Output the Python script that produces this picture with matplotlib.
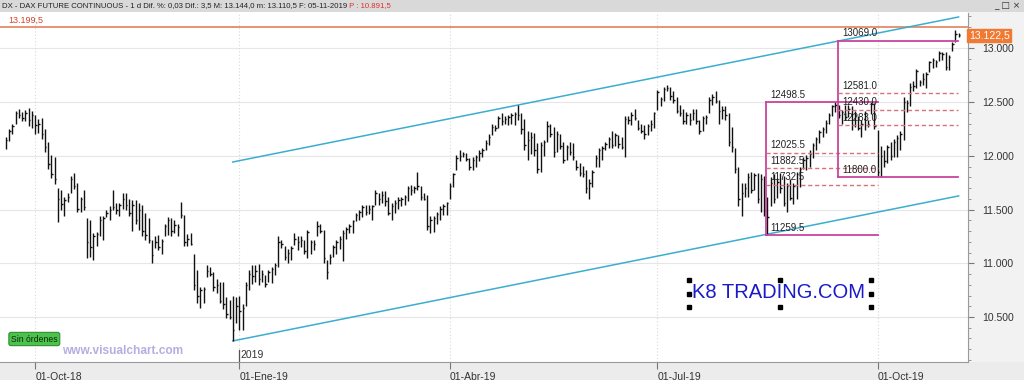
import matplotlib
matplotlib.use("Agg")
import matplotlib.pyplot as plt
from matplotlib.patches import Rectangle
from matplotlib.lines import Line2D
from matplotlib.text import Annotation
import matplotlib.transforms as mtransforms
import numpy as np

# daily bars (DAX future)
bar_high = [
    12180, 12250, 12300, 12420, 12440, 12410, 12430, 12450, 12420, 12380,
    12340, 12350, 12250, 12130, 12010, 11990, 11700, 11680, 11620, 11650,
    11810, 11840, 11750, 11620, 11680, 11420, 11400, 11280, 11290, 11440,
    11440, 11500, 11530, 11680, 11560, 11560, 11650, 11650, 11600, 11590,
    11590, 11560, 11540, 11470, 11420, 11220, 11250, 11260, 11230, 11370,
    11435, 11420, 11400, 11370, 11575, 11450, 11270, 11280, 11090, 10940,
    10780, 10780, 10980, 10970, 10920, 10850, 10830, 10830, 10690, 10660,
    10700, 10690, 10700, 10620, 10830, 10940, 10980, 10980, 10990, 10940,
    10890, 10940, 10970, 11000, 11250, 11220, 11160, 11130, 11160, 11280,
    11250, 11250, 11220, 11310, 11220, 11220, 11390, 11370, 11310, 11030,
    11090, 11170, 11220, 11250, 11310, 11340, 11370, 11400, 11470, 11500,
    11540, 11540, 11540, 11540, 11680, 11650, 11670, 11670, 11620, 11560,
    11590, 11620, 11620, 11640, 11720, 11730, 11720, 11850, 11720, 11650,
    11640, 11440, 11440, 11480, 11530, 11550, 11570, 11750, 11840, 12010,
    12050, 12040, 12030, 11980, 11990, 12010, 12050, 12070, 12150, 12200,
    12300, 12290, 12370, 12400, 12370, 12380, 12400, 12410, 12475, 12400,
    12340, 12230, 12220, 12210, 12120, 12130, 12150, 12320, 12300, 12270,
    12230, 12200, 12130, 12100, 12130, 12120, 11960, 11930, 11910, 11870,
    11780, 11870, 12010, 12070, 12090, 12130, 12180, 12230, 12210, 12190,
    12180, 12370, 12370, 12410, 12440, 12330, 12300, 12290, 12300, 12330,
    12410, 12610, 12550, 12640, 12660, 12640, 12600, 12550, 12470, 12440,
    12410, 12400, 12440, 12440, 12330, 12370, 12380, 12550, 12580, 12600,
    12520, 12460, 12460, 12400, 12270, 12070, 11900, 11750, 11745, 11840,
    11850, 11840, 11840, 11830, 11810, 11620, 11800, 11830, 11790, 11840,
    11810, 11750, 11780, 11750, 11850, 11900, 11990, 12010, 12050, 12120,
    12180, 12240, 12270, 12330, 12400, 12470, 12500, 12470, 12430, 12470,
    12470, 12460, 12420, 12370, 12330, 12420, 12330, 12500, 12490, 12240,
    12090, 12050, 12100, 12130, 12160, 12190, 12230, 12550, 12520, 12680,
    12700, 12810, 12710, 12770, 12780, 12880, 12910, 12890, 12980, 12970,
    12970, 12940, 13060, 13170, 13144,
]
bar_low = [
    12060, 12140, 12200, 12300, 12350, 12320, 12320, 12280, 12260, 12200,
    12210, 12160, 12040, 11880, 11790, 11740, 11380, 11500, 11440, 11570,
    11650, 11690, 11480, 11480, 11500, 11050, 11060, 11030, 11160, 11250,
    11220, 11430, 11400, 11500, 11460, 11440, 11510, 11500, 11440, 11300,
    11370, 11310, 11250, 11220, 11190, 11000, 11140, 11120, 11090, 11250,
    11265, 11250, 11280, 11250, 11420, 11160, 11160, 11170, 10750, 10630,
    10580, 10630, 10870, 10880, 10740, 10720, 10630, 10570, 10490, 10480,
    10280, 10440, 10380, 10380, 10600, 10750, 10810, 10830, 10800, 10830,
    10780, 10830, 10820, 10890, 10970, 11140, 11030, 11000, 11030, 11170,
    11120, 11150, 11090, 11050, 11090, 11120, 11250, 11280, 11000, 10850,
    10990, 11060, 11090, 11130, 11020, 11230, 11280, 11280, 11390, 11400,
    11430, 11450, 11460, 11400, 11540, 11540, 11560, 11530, 11450, 11400,
    11470, 11510, 11530, 11540, 11580, 11640, 11650, 11680, 11590, 11590,
    11310, 11280, 11290, 11370, 11400, 11450, 11450, 11600, 11710, 11870,
    11950, 11990, 11950, 11870, 11870, 11900, 11950, 11990, 12050, 12100,
    12190, 12230, 12260, 12290, 12300, 12290, 12300, 12290, 12335, 12200,
    12050, 11960, 12020, 12000, 11840, 11850, 12000, 12130, 12180, 11990,
    12040, 12060, 11930, 11960, 12010, 11960, 11870, 11810, 11800, 11650,
    11600, 11710, 11900, 11900, 11960, 12050, 12070, 12070, 12090, 12070,
    12060, 11990, 12300, 12290, 12330, 12240, 12210, 12160, 12190, 12230,
    12260, 12430, 12460, 12510, 12600, 12520, 12490, 12400, 12370, 12300,
    12300, 12290, 12330, 12300, 12200, 12230, 12300, 12400, 12470, 12490,
    12300, 12340, 12330, 12090, 12040, 11840, 11530, 11440, 11620, 11620,
    11650, 11680, 11560, 11480, 11440, 11260, 11530, 11560, 11610, 11650,
    11530, 11480, 11590, 11550, 11600, 11710, 11880, 11870, 11900, 11980,
    12050, 12120, 12180, 12210, 12300, 12370, 12410, 12350, 12300, 12330,
    12360, 12240, 12270, 12240, 12180, 12240, 12270, 12390, 12250, 11810,
    11800, 11900, 11930, 11960, 11990, 11990, 12050, 12150, 12410, 12460,
    12600, 12630, 12650, 12660, 12630, 12780, 12820, 12830, 12880, 12890,
    12800, 12800, 12980, 13060, 13110.5,
]
bar_close = [
    12150, 12230, 12280, 12400, 12380, 12350, 12400, 12330, 12380, 12290,
    12300, 12200, 12080, 11920, 11830, 11780, 11600, 11550, 11590, 11620,
    11780, 11720, 11510, 11600, 11520, 11200, 11150, 11250, 11270, 11400,
    11420, 11470, 11500, 11520, 11500, 11540, 11600, 11540, 11470, 11540,
    11400, 11500, 11300, 11260, 11220, 11080, 11200, 11150, 11210, 11350,
    11400, 11300, 11360, 11340, 11450, 11200, 11230, 11180, 10800, 10700,
    10750, 10760, 10930, 10900, 10780, 10800, 10650, 10620, 10530, 10500,
    10380, 10600, 10560, 10580, 10800, 10900, 10880, 10930, 10850, 10900,
    10810, 10920, 10950, 10980, 11200, 11180, 11060, 11100, 11140, 11230,
    11200, 11220, 11110, 11290, 11200, 11180, 11350, 11300, 11050, 10920,
    11060, 11150, 11200, 11230, 11280, 11320, 11350, 11390, 11450, 11480,
    11520, 11480, 11510, 11530, 11650, 11600, 11640, 11580, 11470, 11530,
    11560, 11590, 11600, 11620, 11700, 11680, 11700, 11720, 11620, 11600,
    11350, 11400, 11420, 11460, 11510, 11530, 11560, 11720, 11830, 11980,
    12000, 12020, 11970, 11900, 11960, 11990, 12030, 12050, 12120, 12180,
    12270, 12260, 12350, 12320, 12340, 12360, 12380, 12390, 12380, 12250,
    12100, 12150, 12180, 12050, 11880, 12100, 12130, 12280, 12200, 12040,
    12200, 12090, 11960, 12080, 12040, 11990, 11900, 11840, 11830, 11700,
    11750, 11850, 11980, 12050, 12070, 12110, 12160, 12100, 12190, 12110,
    12080, 12340, 12330, 12380, 12350, 12260, 12230, 12200, 12280, 12300,
    12400, 12590, 12530, 12620, 12630, 12560, 12520, 12420, 12400, 12320,
    12380, 12330, 12400, 12320, 12230, 12350, 12360, 12520, 12550, 12510,
    12420, 12430, 12380, 12130, 12080, 11880, 11600, 11650, 11700, 11800,
    11680, 11820, 11600, 11780, 11500, 11430, 11750, 11600, 11760, 11700,
    11560, 11720, 11610, 11720, 11830, 11880, 11960, 11980, 12020, 12100,
    12160, 12220, 12250, 12310, 12380, 12460, 12470, 12380, 12410, 12360,
    12440, 12290, 12380, 12260, 12300, 12400, 12300, 12480, 12280, 11850,
    12000, 11950, 12080, 12000, 12130, 12170, 12200, 12500, 12490, 12640,
    12650, 12790, 12690, 12720, 12760, 12870, 12890, 12870, 12960, 12950,
    12830, 12920, 13040, 13130, 13122.5,
]

month_bar = [9, 72, 137, 201, 269]
month_labels = ["01-Oct-18", "01-Ene-19", "01-Abr-19", "01-Jul-19", "01-Oct-19"]
price_ticks = [10500, 11000, 11500, 12000, 12500, 13000]

last_price = 13122.5
max_line = 13199.5

# trend channel: (bar, price) at both ends
channel_upper = ([70, 294], [11943, 13293])
channel_lower = ([70, 294], [10277, 11627])

# retracement boxes
box_a = dict(x0=234.6, x1=269.1, top=12498.5, bottom=11259.5,
             levels=[12025.5, 11882.5, 11732.5])
box_b = dict(x0=256.8, x1=293.8, top=13069.0, bottom=11800.0,
             levels=[12581.0, 12430.0, 12283.0])

FONT = "Liberation Sans"
W, H = 1024, 380

fig = plt.figure(figsize=(W / 100, H / 100), dpi=100)
fig.patch.set_facecolor("white")


def fx(px):
    return px / W


def fy(py):
    return 1 - py / H


# frame bands
fig.add_artist(Rectangle((0, fy(12)), 1, 12 / H, transform=fig.transFigure,
                         facecolor="#d9d9d9", edgecolor="none", zorder=0))
fig.add_artist(Rectangle((fx(968), fy(362)), 1 - fx(968), 350 / H, transform=fig.transFigure,
                         facecolor="#f2f2f2", edgecolor="none", zorder=0))
fig.add_artist(Rectangle((0, 0), 1, 18 / H, transform=fig.transFigure,
                         facecolor="#ececec", edgecolor="none", zorder=0))

ax = fig.add_axes([0, fy(362), fx(968), 349 / H])
ax.set_facecolor("white")
ax.set_zorder(1)

idx = np.arange(len(bar_high))
ax.vlines(idx, bar_low, bar_high, color="#111111", lw=1.0, zorder=3)
ax.hlines(bar_close, idx, idx + 0.45, color="#111111", lw=1.0, zorder=3)

ax.set_xlim(-1.85, 296.9)
ax.set_ylim(10081, 13330)

# grid
for p in price_ticks:
    ax.axhline(p, color="#e6e6e6", lw=0.8, zorder=0)
for m in month_bar:
    ax.axvline(m, color="#d8d8d8", lw=0.8, ls=(0, (1, 2)), zorder=0)

# max line
ax.axhline(max_line, color="#e0825e", lw=1.2, zorder=2)
ax.text(0.6, max_line + 25, "13.199,5", color="#d2452a", fontsize=6.5,
        family=FONT, va="bottom", ha="left", zorder=5)

# channel
ax.plot(*channel_upper, color="#3aaed0", lw=1.1, zorder=2)
ax.plot(*channel_lower, color="#3aaed0", lw=1.1, zorder=2)

# boxes
mag = "#c8449e"
dash = "#d9707e"
for box in (box_a, box_b):
    ax.plot([box["x0"], box["x0"]], [box["bottom"], box["top"]], color=mag, lw=1.3, zorder=4)
    ax.plot([box["x0"], box["x1"]], [box["top"], box["top"]], color=mag, lw=1.3, zorder=4)
    ax.plot([box["x0"], box["x1"]], [box["bottom"], box["bottom"]], color=mag, lw=1.3, zorder=4)
    for lv in box["levels"]:
        ax.plot([box["x0"], box["x1"]], [lv, lv], color=dash, lw=1.0,
                ls=(0, (3, 2)), zorder=4)
    for lv in [box["top"], box["bottom"]] + box["levels"]:
        ax.text(box["x0"] + 1.2, lv + 25, f"{lv:.1f}", fontsize=7, family=FONT,
                color="#222222", va="bottom", ha="left", zorder=5)

# axes styling
for s in ["top", "left"]:
    ax.spines[s].set_visible(False)
ax.spines["right"].set_color("#9a9a9a")
ax.spines["bottom"].set_color("#9a9a9a")

ax.yaxis.tick_right()
ax.set_yticks(price_ticks)
ax.set_yticklabels([f"{p:,}".replace(",", ".") for p in price_ticks])
ax.set_yticks(np.arange(10100, 13400, 100), minor=True)
ax.tick_params(axis="y", which="major", length=4, width=0.8, color="#777777",
               pad=6, labelsize=7.5, labelcolor="#333333")
ax.tick_params(axis="y", which="minor", length=2.5, width=0.6, color="#888888")
for lab in ax.get_yticklabels():
    lab.set_family(FONT)

ax.set_xticks(month_bar)
ax.set_xticklabels(month_labels)
ax.tick_params(axis="x", length=5, width=0.8, color="#777777", pad=2,
               labelsize=7.5, labelcolor="#333333")
for lab in ax.get_xticklabels():
    lab.set_family(FONT)
    lab.set_ha("left")

# year marker
ax.axvline(month_bar[1], ymin=0, ymax=12 / 349, color="#555555", lw=0.9, zorder=3)
ax.text(month_bar[1] + 0.4, 10095, "2019", fontsize=7.5, family=FONT,
        color="#333333", va="bottom", ha="left", zorder=5)

# last price tag on the axis
tr = mtransforms.blended_transform_factory(fig.transFigure, ax.transData)
ax.text(fx(969), last_price, "13.122,5", transform=tr, fontsize=7.5, family=FONT,
        color="white", va="center", ha="left", zorder=6, clip_on=False,
        bbox=dict(boxstyle="square,pad=0.15", facecolor="#f07a34", edgecolor="#f07a34"))

# header
head = fig.text(fx(2), fy(6), "DX - DAX FUTURE CONTINUOUS - 1 d Dif. %: 0,03 Dif.: 3,5 "
                "M: 13.144,0 m: 13.110,5 F: 05-11-2019", fontsize=5.6, family=FONT,
                color="#222222", va="center", ha="left")
fig.add_artist(Annotation(" P : 10.891,5", xy=(1, 0.5), xycoords=head, fontsize=5.6,
                          family=FONT, color="#e03030", va="center", ha="left"))
fig.text(fx(994), fy(6), "_ \u25a1 \u00d7", fontsize=6.5, family="DejaVu Sans",
         color="#333333", va="center", ha="left")

# badges and watermarks
fig.text(fx(11), fy(339), "Sin \u00f3rdenes", fontsize=6.2, family=FONT, color="#0a2a0a",
         va="center", ha="left", zorder=6,
         bbox=dict(boxstyle="round,pad=0.25", facecolor="#4cc24c", edgecolor="#2e8e2e", lw=0.8))
fig.text(fx(62), fy(351), "www.visualchart.com", fontsize=8.6, family=FONT,
         weight="bold", color="#b6aee0", va="center", ha="left", zorder=6)

fig.text(fx(692), fy(293), "K8 TRADING.COM", fontsize=14.5, family=FONT,
         color="#1a1ac8", va="center", ha="left", zorder=6)
hx = [fx(689), fx(780), fx(871)]
hy = [fy(280), fy(294), fy(307)]
for xx in hx:
    for yy in hy:
        if xx == hx[1] and yy == hy[1]:
            continue
        fig.add_artist(Line2D([xx], [yy], marker="s", markersize=3.2, color="black",
                              transform=fig.transFigure, zorder=7))

fig.savefig("out.png", dpi=100)
